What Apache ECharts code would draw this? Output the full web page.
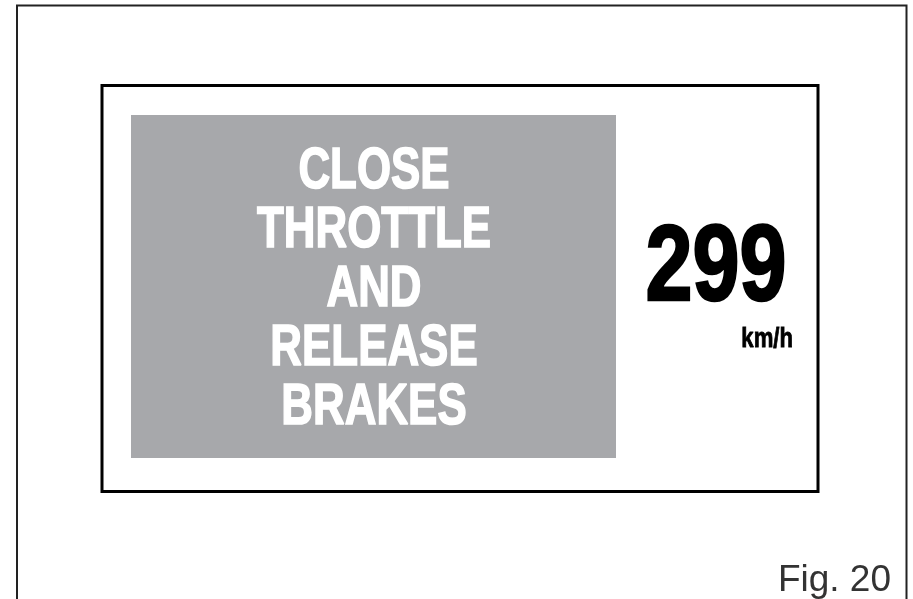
<!DOCTYPE html>
<html>
<head>
<meta charset="utf-8">
<script src="https://cdn.jsdelivr.net/npm/echarts@6/dist/echarts.min.js"></script>
<style>
  html, body { margin: 0; padding: 0; background: #fff; }
  #main { width: 913px; height: 599px; }
</style>
</head>
<body>
<div id="main"></div>
<script>
// texts shown on the display
const warningLines = ['CLOSE', 'THROTTLE', 'AND', 'RELEASE', 'BRAKES'];
const speedValue = [299];
const speedUnit = ['km/h'];
const figLabel = ['Fig. 20'];

const chart = echarts.init(document.getElementById('main'));

const boldFont = 'Liberation Sans';
const squeeze = 0.77; // condensed look

const elements = [];

// outer frame (open at bottom)
elements.push({
  type: 'polyline',
  shape: { points: [[17, 599], [17, 5.5], [906.5, 5.5], [906.5, 599]] },
  style: { stroke: '#222', lineWidth: 2, fill: null }
});

// display frame
elements.push({
  type: 'rect',
  shape: { x: 102, y: 85.5, width: 716, height: 406 },
  style: { stroke: '#000', lineWidth: 3, fill: '#fff' }
});

// grey warning panel
elements.push({
  type: 'rect',
  shape: { x: 131, y: 115, width: 485, height: 343 },
  style: { fill: '#a7a8ab' }
});

warningLines.forEach((t, i) => {
  elements.push({
    type: 'text',
    x: 374,
    y: 172 + i * 59,
    scaleX: squeeze,
    style: {
      text: t,
      fill: '#fff',
      stroke: '#fff',
      lineWidth: 1.6,
      font: 'bold 57px "' + boldFont + '"',
      align: 'center',
      verticalAlign: 'middle'
    }
  });
});

elements.push({
  type: 'text',
  x: 716,
  y: 270,
  scaleX: 0.79,
  style: {
    text: String(speedValue[0]),
    fill: '#000',
    stroke: '#000',
    lineWidth: 2.5,
    font: 'bold 107px "' + boldFont + '"',
    align: 'center',
    verticalAlign: 'middle'
  }
});

elements.push({
  type: 'text',
  x: 793,
  y: 340,
  scaleX: 0.82,
  style: {
    text: speedUnit[0],
    fill: '#000',
    stroke: '#000',
    lineWidth: 0.8,
    font: 'bold 27px "' + boldFont + '"',
    align: 'right',
    verticalAlign: 'middle'
  }
});

elements.push({
  type: 'text',
  x: 891,
  y: 581,
  style: {
    text: figLabel[0],
    fill: '#333',
    font: '37px "Liberation Sans"',
    align: 'right',
    verticalAlign: 'middle'
  }
});

chart.setOption({
  backgroundColor: '#fff',
  animation: false,
  graphic: { elements: elements }
});
</script>
</body>
</html>
